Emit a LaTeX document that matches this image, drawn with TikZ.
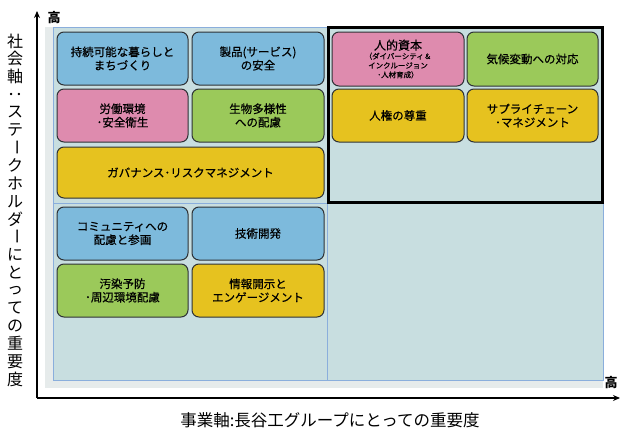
\documentclass[tikz,border=0pt]{standalone}
\usepackage{fontspec}
\setmainfont{Noto Sans CJK JP}
\newfontfamily\itemfont[FakeBold=0.5]{Noto Sans CJK JP}
\usetikzlibrary{arrows.meta}
\definecolor{cblue}{HTML}{7DBADC}
\definecolor{cpink}{HTML}{DE8BAE}
\definecolor{cgreen}{HTML}{9BC95A}
\definecolor{cyellow}{HTML}{E6C21F}
\definecolor{cellfill}{HTML}{C8DEE0}
\definecolor{cellline}{HTML}{8AAEDC}
\definecolor{bgfill}{HTML}{E6EBEB}
\definecolor{boxline}{HTML}{2E3236}
\newcommand{\vbar}{\rotatebox[origin=c]{-90}{ー}}
\newcommand{\vcolon}{\rotatebox[origin=c]{-90}{：}}
\tikzset{
  item/.style={draw=boxline, line width=1pt, rounded corners=7pt, align=center,
    inner sep=0pt, font=\itemfont\fontsize{11.5}{13.5}\selectfont,
    minimum width=131pt, minimum height=53pt},
  cell/.style={draw=cellline, fill=cellfill, line width=0.8pt},
  axis/.style={line width=1.6pt, -{Stealth[length=7pt,width=6pt]}},
  vchar/.style={font=\fontsize{16}{16}\selectfont, inner sep=0pt, anchor=center},
}
\begin{document}
\begin{tikzpicture}[x=1pt,y=-1pt]
\useasboundingbox (0,0) rectangle (624,439);
% background panel and quadrants
\path[fill=bgfill] (45,27) rectangle (603,388);
\draw[cell] (53,27) rectangle (327,203);
\draw[cell] (327,27) rectangle (603,203);
\draw[cell] (53,203) rectangle (327,380);
\draw[cell] (327,203) rectangle (603,380);
\draw[line width=3pt, draw=black] (328,27.5) rectangle (602,202);
% items
\node[item, fill=cblue] (b1) at (122.5,58.5) {持続可能な暮らしと\\まちづくり};
\node[item, fill=cblue, minimum width=132pt] (b2) at (258,58.5) {製品(サービス)\\の安全};
\node[item, fill=cpink] (b3) at (122.5,115.5) {労働環境\\･安全衛生};
\node[item, fill=cgreen, minimum width=132pt] (b4) at (258,115.5) {生物多様性\\への配慮};
\node[item, fill=cyellow, minimum width=267pt, minimum height=51pt] (b5) at (190.5,172.5) {ガバナンス･リスクマネジメント};
\node[item, fill=cblue] (b6) at (122.5,233.5) {コミュニティへの\\配慮と参画};
\node[item, fill=cblue, minimum width=132pt] (b7) at (258,233.5) {技術開発};
\node[item, fill=cgreen] (b8) at (122.5,290.5) {汚染予防\\･周辺環境配慮};
\node[item, fill=cyellow, minimum width=132pt] (b9) at (258,290.5) {情報開示と\\エンゲージメント};
\node[item, fill=cpink, minimum width=132pt, minimum height=54pt, font=\itemfont\fontsize{7.5}{9.3}\selectfont] (b10) at (398,59)
  {{\fontsize{12}{13}\selectfont 人的資本}\\（ダイバーシティ＆\\インクルージョン\\･人材育成）};
\node[item, fill=cgreen, minimum height=54pt] (b11) at (532.5,59) {気候変動への対応};
\node[item, fill=cyellow, minimum width=132pt] (b12) at (398,115.5) {人権の尊重};
\node[item, fill=cyellow] (b13) at (532.5,115.5) {サプライチェーン\\･マネジメント};
% axes
\coordinate (o) at (37,398);
\coordinate (ytop) at (37,11);
\coordinate (xend) at (620,398);
\draw[axis] (o) -- (ytop);
\draw[axis] (o) -- (xend);
\node[font=\fontsize{13}{13}\selectfont\bfseries, inner sep=0pt] (yhigh) at (54,18) {高};
\node[font=\fontsize{13}{13}\selectfont\bfseries, inner sep=0pt] (xhigh) at (611,383) {高};
\node[font=\fontsize{16.5}{17}\selectfont, inner sep=0pt] (xlab) at (330,420) {事業軸:長谷工グループにとっての重要度};
\foreach \c [count=\i from 0] in {社,会,軸,\vcolon,ス,テ,\vbar,ク,ホ,ル,ダ,\vbar,に,と,っ,て,の,重,要,度}
  \node[vchar] (ylab\i) at (15,{41+\i*17.8}) {\c};
\end{tikzpicture}
\end{document}
